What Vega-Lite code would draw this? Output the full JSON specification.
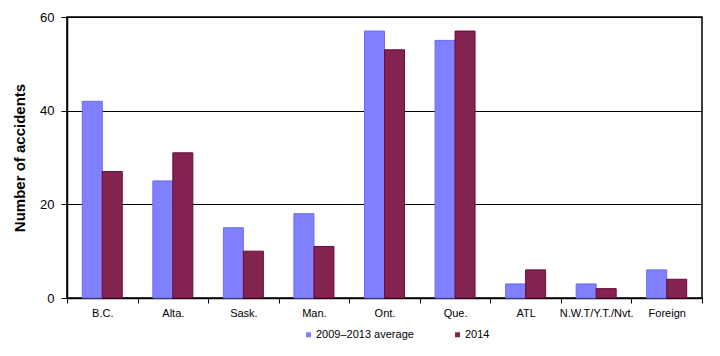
{
  "$schema": "https://vega.github.io/schema/vega-lite/v6.json",
  "width": 635,
  "height": 281,
  "autosize": "none",
  "padding": {"left": 67, "top": 17, "right": 18, "bottom": 58},
  "background": "white",
  "config": {
    "font": "Liberation Sans",
    "view": {"stroke": "black", "strokeWidth": 1.5}
  },
  "data": {
    "values": [
      {"region": "B.C.", "series": "2009–2013 average", "accidents": 42},
      {"region": "B.C.", "series": "2014", "accidents": 27},
      {"region": "Alta.", "series": "2009–2013 average", "accidents": 25},
      {"region": "Alta.", "series": "2014", "accidents": 31},
      {"region": "Sask.", "series": "2009–2013 average", "accidents": 15},
      {"region": "Sask.", "series": "2014", "accidents": 10},
      {"region": "Man.", "series": "2009–2013 average", "accidents": 18},
      {"region": "Man.", "series": "2014", "accidents": 11},
      {"region": "Ont.", "series": "2009–2013 average", "accidents": 57},
      {"region": "Ont.", "series": "2014", "accidents": 53},
      {"region": "Que.", "series": "2009–2013 average", "accidents": 55},
      {"region": "Que.", "series": "2014", "accidents": 57},
      {"region": "ATL", "series": "2009–2013 average", "accidents": 3},
      {"region": "ATL", "series": "2014", "accidents": 6},
      {"region": "N.W.T/Y.T./Nvt.", "series": "2009–2013 average", "accidents": 3},
      {"region": "N.W.T/Y.T./Nvt.", "series": "2014", "accidents": 2},
      {"region": "Foreign", "series": "2009–2013 average", "accidents": 6},
      {"region": "Foreign", "series": "2014", "accidents": 4}
    ]
  },
  "mark": {"type": "bar", "strokeWidth": 1},
  "encoding": {
    "x": {
      "field": "region",
      "type": "nominal",
      "sort": null,
      "scale": {"paddingInner": 0, "paddingOuter": 0},
      "axis": {
        "title": null,
        "labelAngle": 0,
        "labelFontSize": 11,
        "labelColor": "black",
        "labelPadding": 4,
        "tickBand": "extent",
        "tickSize": 5,
        "tickColor": "black",
        "domainColor": "black",
        "domainWidth": 1.5,
        "grid": false
      }
    },
    "xOffset": {
      "field": "series",
      "type": "nominal",
      "scale": {"paddingInner": 0, "paddingOuter": 0.764}
    },
    "y": {
      "field": "accidents",
      "type": "quantitative",
      "scale": {"domain": [0, 60], "nice": false},
      "axis": {
        "title": "Number of accidents",
        "titleFontSize": 15,
        "titleFontWeight": "bold",
        "titleColor": "black",
        "titlePadding": 12,
        "values": [0, 20, 40, 60],
        "labelFontSize": 13,
        "labelColor": "black",
        "labelPadding": 7,
        "tickSize": 6,
        "tickColor": "black",
        "domainColor": "black",
        "domainWidth": 1.5,
        "grid": true,
        "gridColor": "black",
        "gridWidth": 1.2
      }
    },
    "color": {
      "field": "series",
      "type": "nominal",
      "scale": {"domain": ["2009–2013 average", "2014"], "range": ["#8080ff", "#832350"]},
      "legend": {
        "title": null,
        "orient": "none",
        "direction": "horizontal",
        "legendX": 236,
        "legendY": 312,
        "symbolType": "square",
        "symbolSize": 25,
        "symbolStrokeWidth": 0,
        "labelFontSize": 11,
        "labelColor": "black",
        "labelOffset": 2,
        "columnPadding": 38
      }
    },
    "stroke": {
      "field": "series",
      "type": "nominal",
      "scale": {"domain": ["2009–2013 average", "2014"], "range": ["#6a6af5", "#6b0a3a"]},
      "legend": null
    }
  }
}
